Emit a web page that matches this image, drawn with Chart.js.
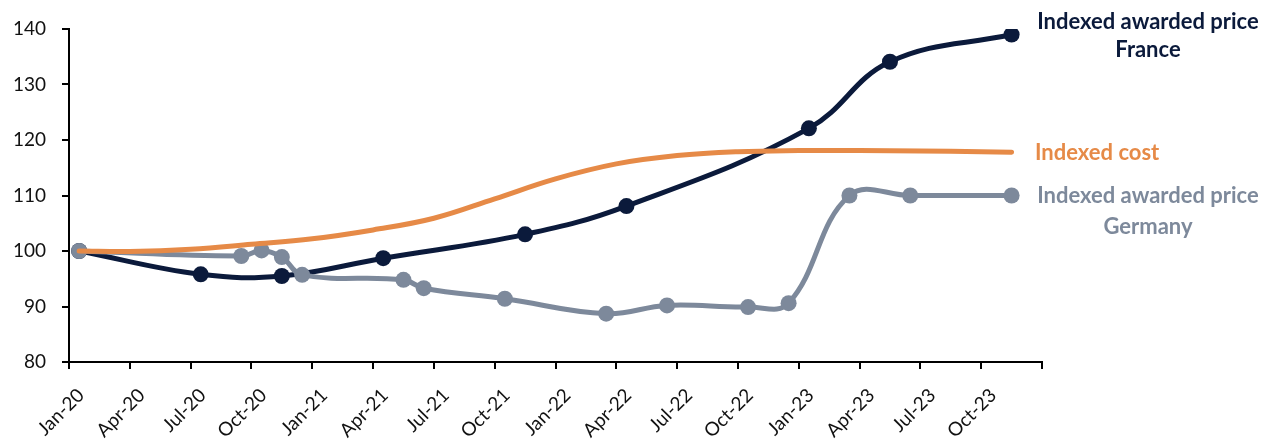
<!DOCTYPE html>
<html>
<head>
<meta charset="utf-8">
<script src="https://cdn.jsdelivr.net/npm/chart.js@4.4.1/dist/chart.umd.min.js"></script>
<style>
  html, body { margin: 0; padding: 0; background: #fff; }
  #wrap { width: 1264px; height: 441px; }
</style>
</head>
<body>
<div id="wrap"><canvas id="myChart" width="1264" height="441"></canvas></div>
<script>
// months since Jan-2020 (0.5 = middle of Jan-20)
const xTickLabels = ['Jan-20', 'Apr-20', 'Jul-20', 'Oct-20', 'Jan-21', 'Apr-21', 'Jul-21', 'Oct-21',
  'Jan-22', 'Apr-22', 'Jul-22', 'Oct-22', 'Jan-23', 'Apr-23', 'Jul-23', 'Oct-23', ''];

const franceMonths = [0.5, 6.5, 10.5, 15.5, 22.5, 27.5, 36.5, 40.5, 46.5];
const franceValues = [100, 95.8, 95.5, 98.7, 103, 108.1, 122.1, 134.1, 139];

const germanyMonths = [0.5, 8.5, 9.5, 10.5, 11.5, 16.5, 17.5, 21.5, 26.5, 29.5, 33.5, 35.5, 38.5, 41.5, 46.5];
const germanyValues = [100, 99.1, 100.1, 98.9, 95.7, 94.8, 93.3, 91.4, 88.7, 90.2, 89.9, 90.6, 110, 110, 110];

const costMonths = [0.5, 3, 6, 9, 12, 15, 18, 21, 24, 27, 30, 33, 36, 39, 42, 45, 46.5];
const costValues = [100, 99.9, 100.3, 101.2, 102.2, 103.8, 105.9, 109.4, 113, 115.7, 117.2, 117.9, 118.1, 118.1, 118, 117.9, 117.8];

const navy = '#0b1a3b';
const orange = '#e68a47';
const grey = '#7d899b';

function toPoints(xs, ys) {
  return xs.map((x, i) => ({ x: x, y: ys[i] }));
}

// draw the series names next to the last points
const endLabels = {
  id: 'endLabels',
  afterDraw(chart) {
    const ctx = chart.ctx;
    const y = chart.scales.y;
    const right = chart.chartArea.right;
    const cx = right + 106;
    ctx.save();
    ctx.font = 'bold 22px Lato';
    ctx.textBaseline = 'middle';

    const fy = y.getPixelForValue(franceValues[franceValues.length - 1]);
    ctx.fillStyle = navy;
    ctx.textAlign = 'center';
    ctx.fillText('Indexed awarded price', cx, fy - 13);
    ctx.fillText('France', cx, fy + 15);

    const cy = y.getPixelForValue(costValues[costValues.length - 1]);
    ctx.fillStyle = orange;
    ctx.textAlign = 'left';
    ctx.fillText('Indexed cost', right - 7, cy + 1);

    const gy = y.getPixelForValue(germanyValues[germanyValues.length - 1]);
    ctx.fillStyle = grey;
    ctx.textAlign = 'center';
    ctx.fillText('Indexed awarded price', cx, gy);
    ctx.fillText('Germany', cx, gy + 31);
    ctx.restore();
  }
};

const ctx = document.getElementById('myChart').getContext('2d');
new Chart(ctx, {
  type: 'line',
  data: {
    datasets: [
      {
        label: 'Indexed cost',
        data: toPoints(costMonths, costValues),
        borderColor: orange,
        borderWidth: 5,
        pointRadius: 0,
        tension: 0.4,
        borderCapStyle: 'round'
      },
      {
        label: 'Indexed awarded price Germany',
        data: toPoints(germanyMonths, germanyValues),
        borderColor: grey,
        backgroundColor: grey,
        borderWidth: 5,
        pointRadius: 8,
        pointBorderWidth: 0,
        tension: 0.4
      },
      {
        label: 'Indexed awarded price France',
        data: toPoints(franceMonths, franceValues),
        borderColor: navy,
        backgroundColor: navy,
        borderWidth: 5,
        pointRadius: 8,
        pointBorderWidth: 0,
        tension: 0.4
      }
    ]
  },
  options: {
    responsive: false,
    animation: false,
    events: [],
    layout: { padding: { top: 29, right: 222, left: 0, bottom: 0 } },
    plugins: {
      legend: { display: false },
      tooltip: { enabled: false }
    },
    scales: {
      x: {
        type: 'linear',
        min: 0,
        max: 48,
        afterFit(scale) { scale.height = 79; },
        afterBuildTicks(scale) {
          scale.ticks = xTickLabels.map((_, i) => ({ value: i * 3 }));
        },
        ticks: {
          autoSkip: false,
          minRotation: 45,
          maxRotation: 45,
          color: '#111',
          font: { family: 'Lato', size: 19 },
          padding: 15,
          labelOffset: 12,
          callback: (v) => xTickLabels[Math.round(v / 3)]
        },
        grid: { drawOnChartArea: false, drawTicks: true, tickLength: 7, color: '#000', lineWidth: 2 },
        border: { display: true, color: '#000', width: 2 }
      },
      y: {
        min: 80,
        max: 140,
        afterFit(scale) { scale.width = 69; },
        ticks: {
          stepSize: 10,
          color: '#111',
          font: { family: 'Lato', size: 19 },
          padding: 16
        },
        grid: { drawOnChartArea: false, drawTicks: true, tickLength: 7, color: '#000', lineWidth: 2 },
        border: { display: true, color: '#000', width: 2 }
      }
    }
  },
  plugins: [endLabels]
});
</script>
</body>
</html>
